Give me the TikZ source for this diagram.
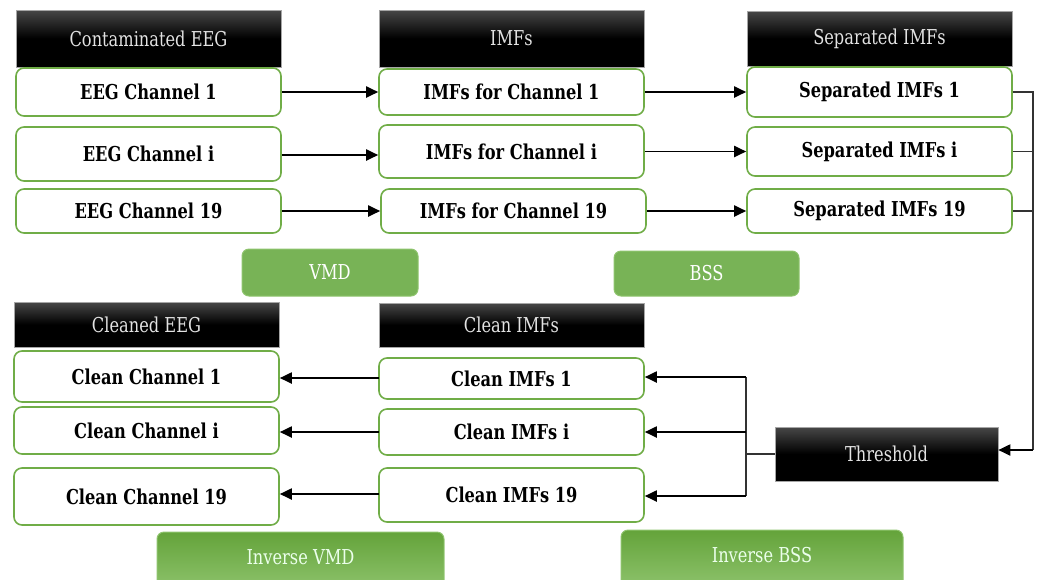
\documentclass[tikz,border=0pt]{standalone}
\usepackage{fontspec}
\setmainfont{DejaVu Serif Condensed}[FakeStretch=0.88]
\usetikzlibrary{arrows.meta,calc}
\definecolor{edgegreen}{HTML}{70AD47}
\definecolor{fillgreen}{HTML}{78B356}
\definecolor{litegreen}{HTML}{8FC46E}
\definecolor{darkgreen}{HTML}{64A33A}
\definecolor{headtxt}{HTML}{E2E2E2}
\definecolor{linegray}{HTML}{333333}
\tikzset{
  chanbox/.style={draw=edgegreen, line width=1.6pt, rounded corners=8pt, fill=white,
    font=\bfseries\fontsize{20.5}{22}\selectfont, text=black, inner sep=0pt},
  headbox/.style={draw=gray!70, line width=0.6pt, inner sep=0pt,
    top color=black!72, bottom color=black, middle color=black, shading angle=0,
    font=\fontsize{20.5}{22}\selectfont, text=headtxt},
  stagebox/.style={draw=litegreen, line width=1pt, rounded corners=7pt, fill=fillgreen,
    font=\fontsize{20.5}{22}\selectfont, text=white, inner sep=0pt},
  invbox/.style={draw=litegreen, line width=1pt, rounded corners=7pt,
    top color=darkgreen, bottom color=litegreen, inner sep=0pt},
  invtext/.style={font=\fontsize{20.5}{22}\selectfont, text=white!92!green},
  flow/.style={line width=1.9pt, -{Triangle[length=12pt,width=11pt]}},
  tie/.style={line width=1.3pt, draw=linegray},
}
\begin{document}
\begin{tikzpicture}[x=1pt,y=-1pt]
\useasboundingbox (0,0) rectangle (1040,579);

% ---- upper half: decomposition and separation ----
\node[headbox, minimum width=265pt, minimum height=57pt] (hc) at (148.5,38.5) {Contaminated EEG};
\node[headbox, minimum width=265pt, minimum height=57pt] (hm) at (511.5,38.5) {IMFs};
\node[headbox, minimum width=265pt, minimum height=55pt] (hs) at (879.5,38.5) {Separated IMFs};

\node[chanbox, minimum width=265pt, minimum height=48pt] (e1)  at (148.5,92)  {EEG Channel 1};
\node[chanbox, minimum width=265pt, minimum height=54pt] (ei)  at (148.5,154) {EEG Channel i};
\node[chanbox, minimum width=265pt, minimum height=44pt] (e19) at (148.5,211) {EEG Channel 19};

\node[chanbox, minimum width=265pt, minimum height=46pt] (m1)  at (511.5,92)   {IMFs for Channel 1};
\node[chanbox, minimum width=265pt, minimum height=53pt] (mi)  at (511.5,151.5) {IMFs for Channel i};
\node[chanbox, minimum width=265pt, minimum height=44pt] (m19) at (513.5,211)  {IMFs for Channel 19};

\node[chanbox, minimum width=265pt, minimum height=50pt] (s1)  at (879.5,92)   {Separated IMFs 1};
\node[chanbox, minimum width=265pt, minimum height=49pt] (si)  at (879.5,151.5) {Separated IMFs i};
\node[chanbox, minimum width=265pt, minimum height=44pt] (s19) at (879.5,211)  {Separated IMFs 19};

\node[stagebox, minimum width=176pt, minimum height=47pt] (vmd) at (330,272.5) {VMD};
\node[stagebox, minimum width=185pt, minimum height=45pt] (bss) at (706.5,273.5) {BSS};

\draw[flow] (e1.east)  -- (e1.east -| m1.west);
\draw[flow] ([yshift=-1pt]ei.east) -- ([yshift=-1pt]ei.east -| mi.west);
\draw[flow] (e19.east) -- (e19.east -| m19.west);
\draw[flow] (m1.east)  -- (m1.east -| s1.west);
\draw[flow] (mi.east)  -- (mi.east -| si.west);
\draw[flow] (m19.east) -- (m19.east -| s19.west);

% ---- lower half: thresholding and reconstruction ----
\node[headbox, minimum width=265pt, minimum height=45pt] (hce) at (146.5,324.5) {Cleaned EEG};
\node[headbox, minimum width=265pt, minimum height=44pt] (hci) at (511.5,325)   {Clean IMFs};

\node[chanbox, minimum width=265pt, minimum height=51pt] (c1)  at (146.5,376.5) {Clean Channel 1};
\node[chanbox, minimum width=265pt, minimum height=47pt] (ci)  at (146.5,430.5) {Clean Channel i};
\node[chanbox, minimum width=265pt, minimum height=57pt] (c19) at (146.5,496.5) {Clean Channel 19};

\node[chanbox, minimum width=265pt, minimum height=41pt] (k1)  at (511.5,378.5) {Clean IMFs 1};
\node[chanbox, minimum width=265pt, minimum height=46pt] (ki)  at (511.5,432)   {Clean IMFs i};
\node[chanbox, minimum width=265pt, minimum height=54pt] (k19) at (511.5,495)   {Clean IMFs 19};

\node[headbox, minimum width=223pt, minimum height=54pt] (thr) at (886.5,454) {Threshold};

% reconstruction stages run past the lower edge
\node[invbox, minimum width=287pt, minimum height=60pt] (ivmd) at (300.5,562) {};
\node[invbox, minimum width=282pt, minimum height=60pt] (ibss) at (762,560) {};
\node[invtext] (ivmdt) at (300.5,557) {Inverse VMD};
\node[invtext] (ibsst) at (762,555) {Inverse BSS};

% separated IMFs gathered into the threshold stage
\coordinate (rb) at (1033,450);
\draw[tie] (s1.east) -| (rb);
\draw[tie] (si.east) -- (si.east -| rb);
\draw[tie] (s19.east) -- (s19.east -| rb);
\draw[flow] (rb) -- (rb -| thr.east);

% threshold output fanned out to the clean IMFs
\coordinate (lb) at (746,454);
\draw[tie] (thr.west |- lb) -- (lb);
\draw[tie] (746,377) -- (746,496);
\draw[flow] (746,377) -- (746,377 -| k1.east);
\draw[flow] (746,432) -- (746,432 -| ki.east);
\draw[flow] (746,496) -- (746,496 -| k19.east);

% inverse VMD back to channels
\draw[flow] (379,378) -- (379,378 -| c1.east);
\draw[flow] (379,432) -- (379,432 -| ci.east);
\draw[flow] (379,494) -- (379,494 -| c19.east);
\end{tikzpicture}
\end{document}
